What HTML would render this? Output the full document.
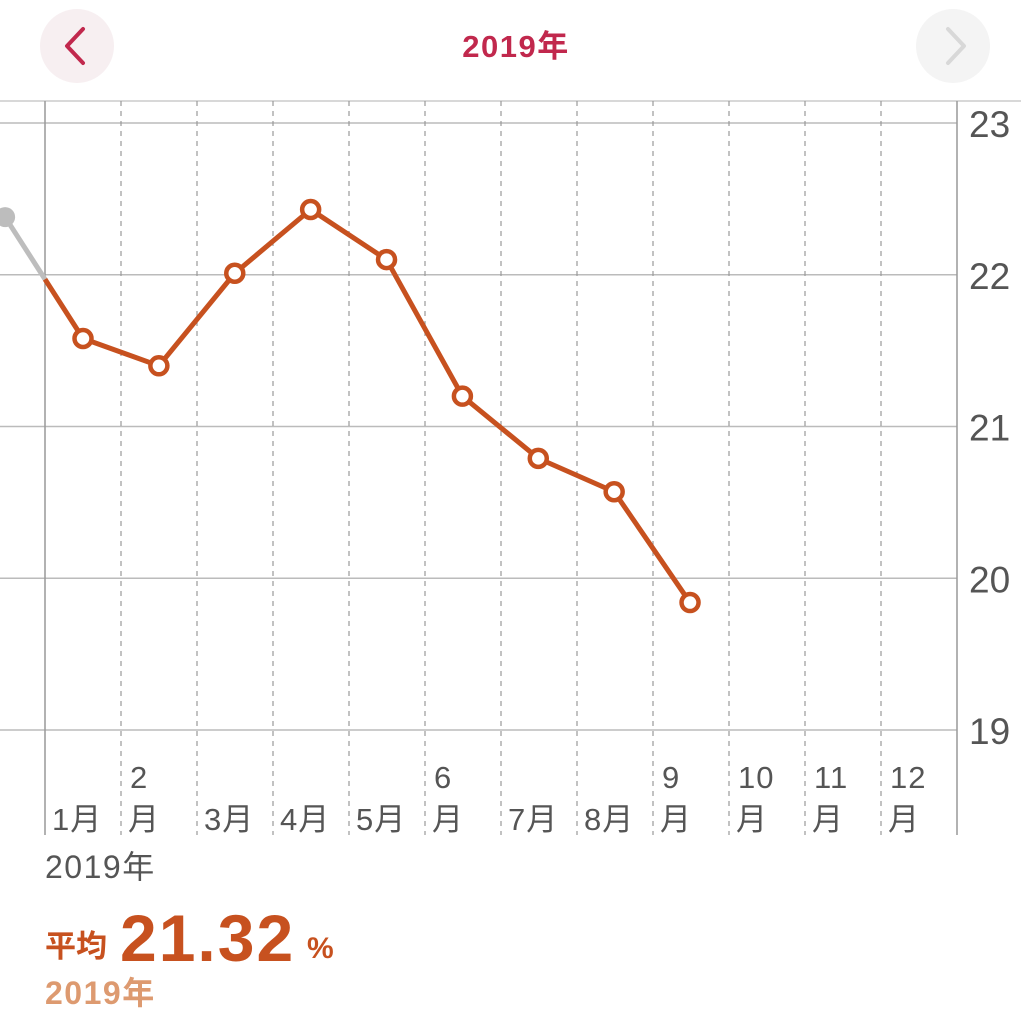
<!DOCTYPE html>
<html><head><meta charset="utf-8">
<style>
html,body{margin:0;padding:0;background:#fff;}
body{width:1021px;height:1024px;overflow:hidden;position:relative;font-family:"Liberation Sans","Noto Sans CJK JP",sans-serif;}
svg{position:absolute;left:0;top:0;}
</style></head>
<body>
<svg width="1021" height="1024">
  <circle cx="77" cy="46" r="37" fill="#f7eff1"/>
  <polyline points="83,29 67,46 83,63" fill="none" stroke="#c1284d" stroke-width="4" stroke-linecap="round" stroke-linejoin="round"/>
  <circle cx="953" cy="46" r="37" fill="#f4f4f4"/>
  <polyline points="948,29 964,46 948,63" fill="none" stroke="#d8d8d8" stroke-width="4" stroke-linecap="round" stroke-linejoin="round"/>
  <text x="516" y="57" text-anchor="middle" font-size="31" font-weight="bold" letter-spacing="1.5" fill="#c1284d">2019年</text>
  <line x1="0" y1="101" x2="1021" y2="101" stroke="#ccc" stroke-width="1.5"/>
  <g id="grid"></g>
  <g id="labels"></g>
  <g id="series"></g>
  <text x="45" y="878" font-size="32" letter-spacing="1.5" fill="#555">2019年</text>
  <text x="45" y="957" font-size="31" font-weight="bold" fill="#c7511f">平均</text>
  <text x="120" y="961" font-size="66" font-weight="bold" letter-spacing="2" fill="#c7511f">21.32</text>
  <text x="307" y="958" font-size="30" font-weight="bold" fill="#c7511f">%</text>
  <text x="45" y="1004" font-size="32" font-weight="bold" letter-spacing="1.5" fill="#dd9a70">2019年</text>
</svg>
<script>
const yTicks = [19, 20, 21, 22, 23];
const months = ["1月","2月","3月","4月","5月","6月","7月","8月","9月","10月","11月","12月"];
const values = [21.58, 21.40, 22.01, 22.43, 22.10, 21.20, 20.79, 20.57, 19.84];
const prevValue = 22.38;

const NS = "http://www.w3.org/2000/svg";
const x0 = 45, mw = 76, xr = 957;
function xScale(i){ return x0 + mw*(i+0.5) - 0.12*i; }
function yScale(v){ return 730 - (v-19)*151.75; }
function mk(tag, attrs, parent){ const e=document.createElementNS(NS,tag); for(const k in attrs) e.setAttribute(k,attrs[k]); parent.appendChild(e); return e; }
const grid=document.getElementById('grid'), labels=document.getElementById('labels'), series=document.getElementById('series');

yTicks.forEach(t=>{
  const y=yScale(t);
  const l=mk('line',{x1:0,y1:y,x2:xr,y2:y,stroke:'#bbb','stroke-width':1.5},grid);
  
  
  const tx=mk('text',{x:969,y:y+14,'font-size':37,fill:'#555'},labels);
  tx.textContent=t;
  
  
});
for(let i=0;i<=12;i++){
  const x=(i===12)?xr:x0+mw*i;
  const solid = (i===0||i===12);
  const l=mk('line',{x1:x,y1:101,x2:x,y2:835,stroke:'#999','stroke-width':solid?1.5:1.2,'stroke-dasharray':solid?'none':'5,5'},grid);
  
  
}
months.forEach((m,i)=>{
  const x=x0+mw*i+7;
  const g=mk('g',{},labels);
  
  
  const two=[1,5,8,9,10,11].includes(i);
  if(two){
    const a=mk('text',{x:x+2,y:788,'font-size':31,'letter-spacing':1,fill:'#555'},g); a.textContent=m.replace('月','');
    const b=mk('text',{x:x,y:830,'font-size':31,fill:'#555'},g); b.textContent='月';
  } else {
    const a=mk('text',{x:x,y:830,'font-size':31,'letter-spacing':1,fill:'#555'},g); a.textContent=m;
  }
});
const px=xScale(-1)-2, py=yScale(prevValue);
const ix=x0, iy=py+(yScale(values[0])-py)*((x0-px)/(xScale(0)-px));
const gl=mk('line',{x1:px,y1:py,x2:ix,y2:iy,stroke:'#bdbdbd','stroke-width':5},series);


const gp=mk('circle',{cx:px,cy:py,r:10,fill:'#bdbdbd'},series);


let pts=ix+','+iy+' '+values.map((v,i)=>xScale(i)+','+yScale(v)).join(' ');
const pl=mk('polyline',{points:pts,fill:'none',stroke:'#c7511f','stroke-width':5,'stroke-linejoin':'round'},series);


values.forEach((v,i)=>{
  const c=mk('circle',{cx:xScale(i),cy:yScale(v),r:8.5,fill:'#fff',stroke:'#c7511f','stroke-width':4.5},series);
  
  
});
</script>
</body></html>
